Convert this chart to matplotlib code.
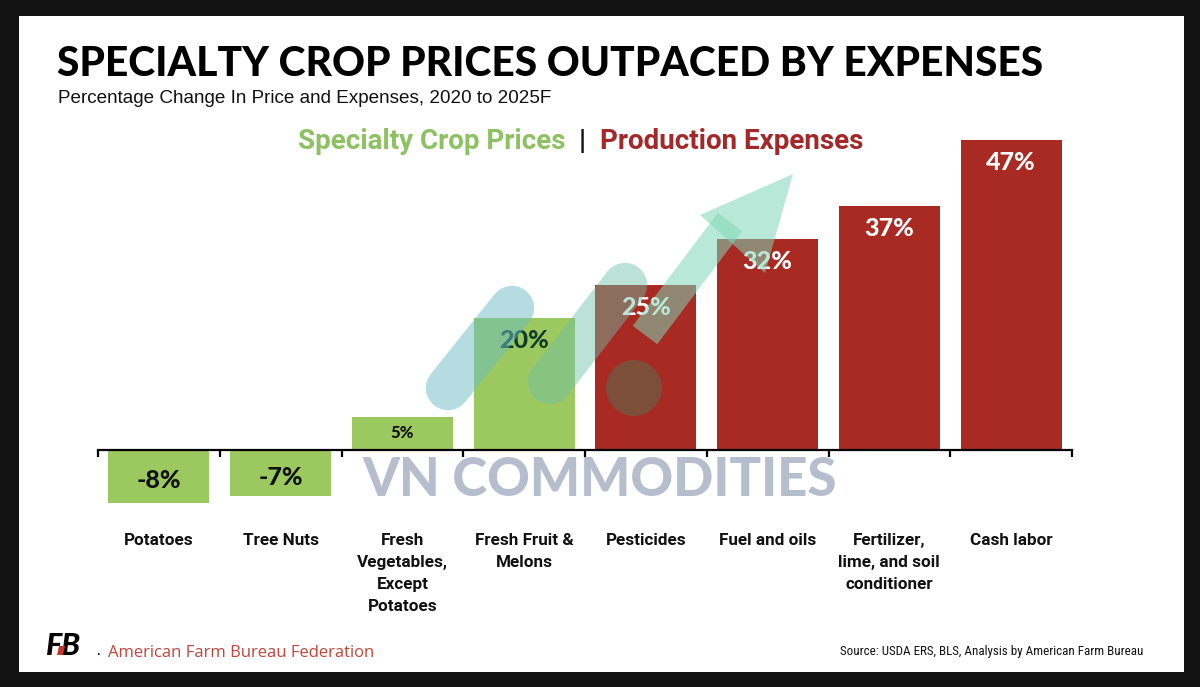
import matplotlib
matplotlib.use("Agg")
import matplotlib.pyplot as plt
import numpy as np
from matplotlib.patches import Rectangle, Polygon, Ellipse
from matplotlib.lines import Line2D

# ---------------- data ----------------
categories = ["Potatoes", "Tree Nuts", "Fresh\nVegetables,\nExcept\nPotatoes",
              "Fresh Fruit &\nMelons", "Pesticides", "Fuel and oils",
              "Fertilizer,\nlime, and soil\nconditioner", "Cash labor"]
values = [-8, -7, 5, 20, 25, 32, 37, 47]
groups = ["price", "price", "price", "price", "expense", "expense", "expense", "expense"]
value_labels = ["-8%", "-7%", "5%", "20%", "25%", "32%", "37%", "47%"]

GREEN = "#9cc95f"
RED = "#a82a22"
colors = {"price": GREEN, "expense": RED}

W, H = 1200, 687
fig = plt.figure(figsize=(W / 100, H / 100), dpi=100)
fig.patch.set_facecolor("#121212")

def fx(px):
    return px / W

def fy(py):
    return 1 - py / H

# white panel
fig.patches.append(Rectangle((fx(19), fy(672)), fx(1184) - fx(19), fy(16) - fy(672),
                             transform=fig.transFigure, facecolor="white",
                             edgecolor="none", zorder=-10))

NARROW = ["Roboto Condensed", "Roboto", "DejaVu Sans"]
BOLDSANS = ["Roboto", "DejaVu Sans"]
HEAVY = ["Lato", "DejaVu Sans"]

# ---------------- axes ----------------
ax = fig.add_axes([fx(98), fy(516), fx(1072) - fx(98), (516 - 133.2) / H])
ax.set_facecolor("none")
x = np.arange(len(categories))
bar_colors = [colors[g] for g in groups]
ax.bar(x, values, width=0.83, color=bar_colors, zorder=2)
ax.set_xlim(-0.5, len(categories) - 0.5)
ax.set_ylim(-10, 48)

for s in ["top", "right", "left"]:
    ax.spines[s].set_visible(False)
ax.spines["bottom"].set_position(("data", 0))
ax.spines["bottom"].set_linewidth(1.6)
ax.spines["bottom"].set_zorder(3)
ax.set_yticks([])
ax.set_xticks(np.arange(-0.5, len(categories)), [""] * (len(categories) + 1))
ax.tick_params(axis="x", which="major", length=5, width=1.6, direction="out")
ax.set_xticks(x, categories, minor=True)
ax.tick_params(axis="x", which="minor", length=0, pad=60)
for lbl in ax.get_xticklabels(minor=True):
    lbl.set_family(BOLDSANS)
    lbl.set_fontweight("bold")
    lbl.set_fontsize(12.3)
    lbl.set_linespacing(1.58)
    lbl.set_verticalalignment("top")
    lbl.set_color("#111111")

# value labels
for xi, v, t in zip(x, values, value_labels):
    if v < 0:
        ax.text(xi, v / 2 - 0.6, t, ha="center", va="center", fontsize=18,
                fontweight="black", family=HEAVY, color="#111111", zorder=4)
    elif v < 10:
        ax.text(xi, v / 2, t, ha="center", va="center", fontsize=12,
                fontweight="black", family=HEAVY, color="#111111", zorder=4)
    else:
        col = "#0f3d2a" if groups[xi] == "price" else "white"
        ax.text(xi, v - 3.4, t, ha="center", va="center", fontsize=18,
                fontweight="black", family=HEAVY, color=col, zorder=4)

# ---------------- watermark ----------------
wm_kw = dict(transform=fig.transFigure, solid_capstyle="round", zorder=5)
fig.add_artist(Line2D([fx(448), fx(512)], [fy(388), fy(308)], lw=32,
                      color="#6cbcc4", alpha=0.5, **wm_kw))
fig.add_artist(Line2D([fx(550), fx(625)], [fy(382), fy(285)], lw=32,
                      color="#6cc0a8", alpha=0.45, **wm_kw))
fig.add_artist(Line2D([fx(645), fx(730)], [fy(335), fy(222)], lw=22,
                      color="#7fd7b8", alpha=0.55, solid_capstyle="butt",
                      transform=fig.transFigure, zorder=5))
fig.add_artist(Polygon([[fx(700), fy(215)], [fx(793), fy(174)], [fx(765), fy(273)]],
                       closed=True, transform=fig.transFigure, facecolor="#7fd7b8",
                       edgecolor="none", alpha=0.55, zorder=5))
fig.add_artist(Ellipse((fx(634), fy(388)), 56 / W, 56 / H, transform=fig.transFigure,
                       facecolor="#4a7a58", alpha=0.45, edgecolor="none", zorder=5))
fig.text(fx(600), fy(480), "VN COMMODITIES", ha="center", va="center", fontsize=38,
         fontweight="black", family=HEAVY, color="#aab3c6", alpha=0.85, zorder=6)

# ---------------- titles ----------------
fig.text(fx(57), fy(76), "SPECIALTY CROP PRICES OUTPACED BY EXPENSES", ha="left",
         va="baseline", fontsize=29.35, fontweight="black", family=HEAVY, color="black")
fig.text(fx(58), fy(103), "Percentage Change In Price and Expenses, 2020 to 2025F",
         ha="left", va="baseline", fontsize=13.6, family=["Liberation Sans", "DejaVu Sans"],
         color="#111111")

# legend line
fig.text(fx(298), fy(149), "Specialty Crop Prices", ha="left", va="baseline",
         fontsize=20, fontweight="bold", family=BOLDSANS, color="#8dc162")
fig.text(fx(582), fy(149), "|", ha="center", va="baseline", fontsize=20,
         fontweight="bold", family=BOLDSANS, color="#111111")
fig.text(fx(600), fy(149), "Production Expenses", ha="left", va="baseline",
         fontsize=20, fontweight="bold", family=BOLDSANS, color="#a3282a")

# ---------------- footer ----------------
fig.text(fx(46), fy(655), "FB", ha="left", va="baseline", fontsize=22,
         fontweight="black", style="italic", family=HEAVY, color="black")
fig.add_artist(Polygon([[fx(57), fy(655)], [fx(63), fy(655)], [fx(65), fy(646)],
                        [fx(59), fy(646)]], closed=True, transform=fig.transFigure,
                       facecolor="#c0392b", edgecolor="none", zorder=7))
fig.text(fx(96), fy(655), ".", ha="left", va="baseline", fontsize=11,
         family=HEAVY, color="black")
fig.text(fx(108), fy(657), "American Farm Bureau Federation", ha="left",
         va="baseline", fontsize=12, family=["Open Sans", "DejaVu Sans"], color="#bf473c")
fig.text(fx(1143), fy(655), "Source: USDA ERS, BLS, Analysis by American Farm Bureau",
         ha="right", va="baseline", fontsize=9.35, family=NARROW, color="#111111")

fig.savefig("out.png", dpi=100, facecolor=fig.get_facecolor())
